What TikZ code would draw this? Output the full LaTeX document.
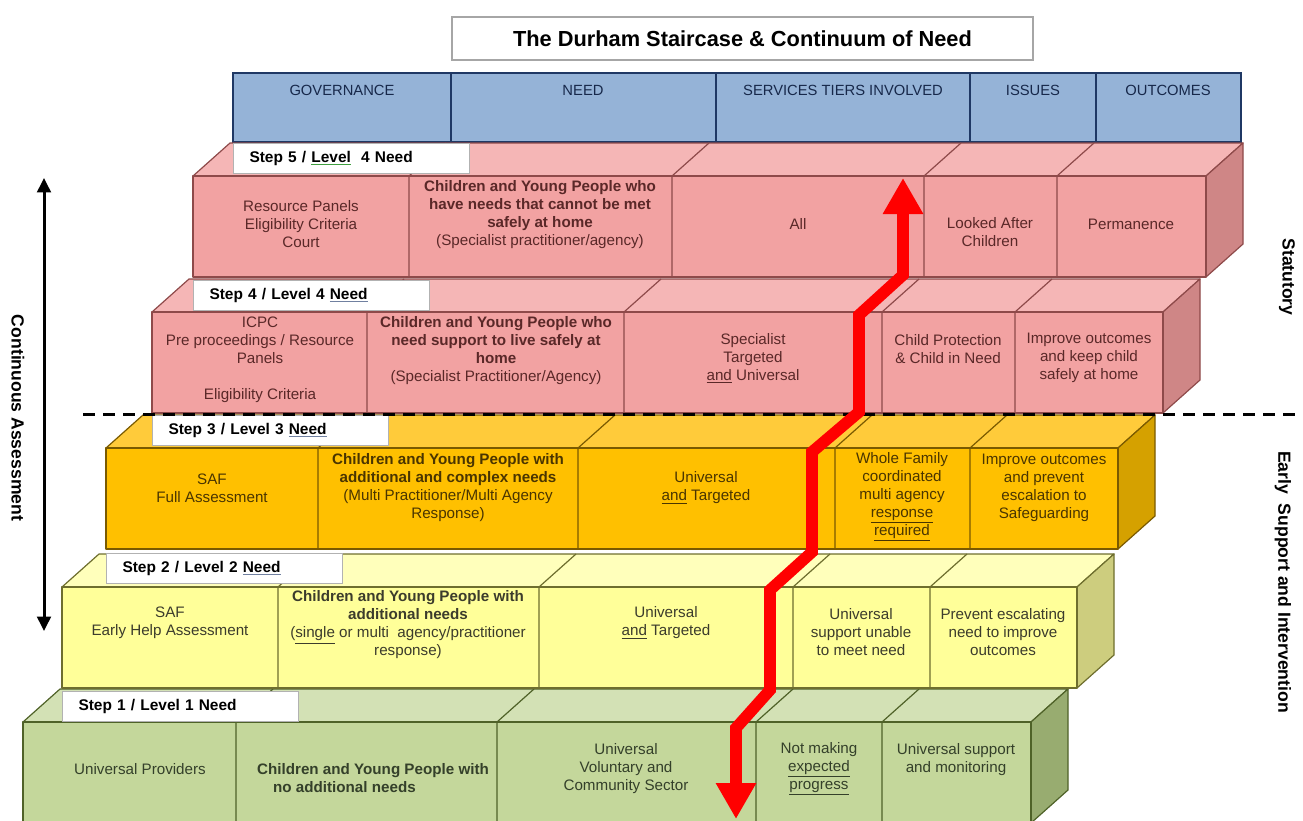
\documentclass[tikz,border=0pt]{standalone}
\usepackage{fontspec}
\setmainfont{Liberation Sans}
\usetikzlibrary{arrows.meta}

\definecolor{frontpink}{HTML}{F2A2A2}
\definecolor{toppink}{HTML}{F5B6B6}
\definecolor{sidepink}{HTML}{CF8686}
\definecolor{linepink}{HTML}{8E4A4A}
\definecolor{textpink}{HTML}{5A2828}
\definecolor{frontgold}{HTML}{FFC000}
\definecolor{topgold}{HTML}{FFCB3A}
\definecolor{sidegold}{HTML}{D5A100}
\definecolor{linegold}{HTML}{7A5A00}
\definecolor{textgold}{HTML}{4A3500}
\definecolor{frontcream}{HTML}{FFFF99}
\definecolor{topcream}{HTML}{FFFFBB}
\definecolor{sidecream}{HTML}{CDCD7E}
\definecolor{linecream}{HTML}{6E6E2E}
\definecolor{textcream}{HTML}{3C3C2C}
\definecolor{frontsage}{HTML}{C4D79B}
\definecolor{topsage}{HTML}{D3E1B5}
\definecolor{sidesage}{HTML}{98AC70}
\definecolor{linesage}{HTML}{4F6228}
\definecolor{textsage}{HTML}{34402A}
\definecolor{headfill}{HTML}{95B3D7}
\definecolor{headline}{HTML}{1F3864}
\definecolor{headtext}{HTML}{17284A}
\definecolor{spellgreen}{HTML}{3F9F3F}
\definecolor{spellgrey}{HTML}{7080A0}

\begin{document}
\begin{tikzpicture}[x=0.25mm, y=-0.25mm,
    face/.style={line width=0.3mm, line join=round},
    cell/.style={align=center, inner sep=0pt, font=\fontsize{10.8}{12.8}\selectfont},
    steptag/.style={draw=gray!60, line width=0.25mm, fill=white, anchor=north west,
      minimum height=7.5mm, text width=51mm, align=left, inner xsep=4mm, inner ysep=0pt,
      font=\bfseries\fontsize{11}{13}\selectfont},
    headbox/.style={draw=headline, line width=0.35mm, fill=headfill},
    headtxt/.style={text=headtext, inner sep=0pt, font=\fontsize{10.5}{12}\selectfont},
    sidetxt/.style={rotate=-90, inner sep=0pt, font=\bfseries\fontsize{12.5}{15}\selectfont}]

  \useasboundingbox (0,0) rectangle (1303,821);
  \clip (0,0) rectangle (1303,821);

  % title and column heads
  \node[draw=gray!70, line width=0.5mm, minimum width=145.25mm, minimum height=10.75mm,
    font=\bfseries\fontsize{15.5}{18}\selectfont] (title) at (742.5,38.5)
    {The Durham Staircase \& Continuum of Need};
  \draw[headbox] (233,73) rectangle (451,142);
  \draw[headbox] (451,73) rectangle (716,142);
  \draw[headbox] (716,73) rectangle (970,142);
  \draw[headbox] (970,73) rectangle (1096,142);
  \draw[headbox] (1096,73) rectangle (1241,142);
  \node[headtxt] (hgov) at (342,90) {GOVERNANCE};
  \node[headtxt] (hneed) at (583,90) {NEED};
  \node[headtxt] (htier) at (843,90) {SERVICES TIERS INVOLVED};
  \node[headtxt] (hissue) at (1033,90) {ISSUES};
  \node[headtxt] (hout) at (1168,90) {OUTCOMES};

  % the five steps, bottom one first
  \foreach \L/\R/\T/\cols/\c in {
      23/1031/722/{236,497,756,882}/sage,
      62/1077/587/{278,539,793,930}/cream,
      106/1118/448/{318,578,835,970}/gold,
      152/1163/312/{367,624,882,1015}/pink,
      193/1206/176/{409,672,924,1057}/pink}{
    \filldraw[draw=line\c, fill=top\c, face] (\L,\T) -- (\R,\T) -- (\R+37,\T-33) -- (\L+37,\T-33) -- cycle;
    \filldraw[draw=line\c, fill=side\c, face] (\R,\T) -- (\R+37,\T-33) -- (\R+37,\T+68) -- (\R,\T+101) -- cycle;
    \filldraw[draw=line\c, fill=front\c, face] (\L,\T) rectangle (\R,\T+101);
    \foreach \x in \cols
      \draw[line\c, face] (\x,\T+101) -- (\x,\T) -- (\x+37,\T-33);
  }

  % step 5
  \node[cell, text=textpink] (s5gov) at (301,224) {Resource Panels\\Eligibility Criteria\\Court};
  \node[cell, text=textpink] (s5need) at (540,215) {\textbf{Children and Young People who}\\\textbf{have needs that cannot be met}\\\textbf{safely at home}\\(Specialist practitioner/agency)};
  \node[cell, text=textpink] (s5tier) at (798,224) {All};
  \node[cell, text=textpink] (s5issue) at (990,232) {Looked After\\Children};
  \node[cell, text=textpink] (s5out) at (1131,224) {Permanence};

  % step 4
  \node[cell, text=textpink] (s4gov) at (260,360) {ICPC\\Pre proceedings / Resource\\Panels\\\mbox{}\\Eligibility Criteria};
  \node[cell, text=textpink] (s4need) at (496,351) {\textbf{Children and Young People who}\\\textbf{need support to live safely at}\\\textbf{home}\\(Specialist Practitioner/Agency)};
  \node[cell, text=textpink] (s4tier) at (753,358) {Specialist\\Targeted\\\underline{and} Universal};
  \node[cell, text=textpink] (s4issue) at (948,349) {Child Protection\\\& Child in Need};
  \node[cell, text=textpink] (s4out) at (1089,358) {Improve outcomes\\and keep child\\safely at home};

  % step 3
  \node[cell, text=textgold] (s3gov) at (212,488) {SAF\\Full Assessment};
  \node[cell, text=textgold] (s3need) at (448,488) {\textbf{Children and Young People with}\\\textbf{additional and complex needs}\\(Multi Practitioner/Multi Agency\\Response)};
  \node[cell, text=textgold] (s3tier) at (706,488) {Universal\\\underline{and} Targeted};
  \node[cell, text=textgold] (s3issue) at (902,497) {Whole Family\\coordinated\\multi agency\\\underline{response}\\\underline{required}};
  \node[cell, text=textgold] (s3out) at (1044,488) {Improve outcomes\\and prevent\\escalation to\\Safeguarding};

  % step 2
  \node[cell, text=textcream] (s2gov) at (170,623) {SAF\\Early Help Assessment};
  \node[cell, text=textcream] (s2need) at (408,625) {\textbf{Children and Young People with}\\\textbf{additional needs}\\(\underline{single} or multi\ \ agency/practitioner\\response)};
  \node[cell, text=textcream] (s2tier) at (666,623) {Universal\\\underline{and} Targeted};
  \node[cell, text=textcream] (s2issue) at (861,632) {Universal\\support unable\\to meet need};
  \node[cell, text=textcream] (s2out) at (1003,632) {Prevent escalating\\need to improve\\outcomes};

  % step 1
  \node[cell, text=textsage] (s1gov) at (140,769) {Universal Providers};
  \node[cell, text=textsage, align=left] (s1need) at (373,778) {\textbf{Children and Young People with}\\\hspace*{4mm}\textbf{no additional needs}};
  \node[cell, text=textsage] (s1tier) at (626,769) {Universal\\Voluntary and\\Community Sector};
  \node[cell, text=textsage] (s1issue) at (819,769) {Not making\\\underline{expected}\\\underline{progress}};
  \node[cell, text=textsage] (s1out) at (956,760) {Universal support\\and monitoring};

  % step tags
  \node[steptag] (tag5) at (233,143) {Step 5 / {\color{spellgreen}\underline{\color{black}Level}}\ \ 4 Need};
  \node[steptag] (tag4) at (193,280) {Step 4 / Level 4 {\color{spellgrey}\underline{\color{black}Need}}};
  \node[steptag] (tag3) at (152,415) {Step 3 / Level 3 {\color{spellgrey}\underline{\color{black}Need}}};
  \node[steptag] (tag2) at (106,553) {Step 2 / Level 2 {\color{spellgrey}\underline{\color{black}Need}}};
  \node[steptag] (tag1) at (62,691) {Step 1 / Level 1 Need};

  % statutory / early support split
  \coordinate (splitL) at (83,414);
  \coordinate (splitR) at (1303,414);
  \draw[line width=0.75mm, dash pattern=on 3mm off 2mm] (splitL) -- (splitR);

  % side labels
  \coordinate (assTop) at (44,178);
  \coordinate (assBot) at (44,631);
  \draw[line width=0.75mm, {Triangle[width=3.4mm,length=3.6mm]}-{Triangle[width=3.4mm,length=3.6mm]}] (assTop) -- (assBot);
  \node[sidetxt] (contass) at (18,418) {Continuous Assessment};
  \node[sidetxt] (statutory) at (1287,277) {Statutory};
  \node[sidetxt] (early) at (1283,582) {Early\ \ Support and Intervention};

  % red pathway
  \coordinate (pathBot) at (736,819);
  \coordinate (pathTop) at (903,178);
  \draw[red, line width=2.9mm, {Triangle[width=9.5mm,length=9mm]}-{Triangle[width=9.5mm,length=9mm]}]
    (pathBot) -- (736,728) -- (770,690) -- (770,590) -- (812,552) -- (812,452)
    -- (859,412) -- (859,315) -- (903,275) -- (pathTop);
\end{tikzpicture}
\end{document}
